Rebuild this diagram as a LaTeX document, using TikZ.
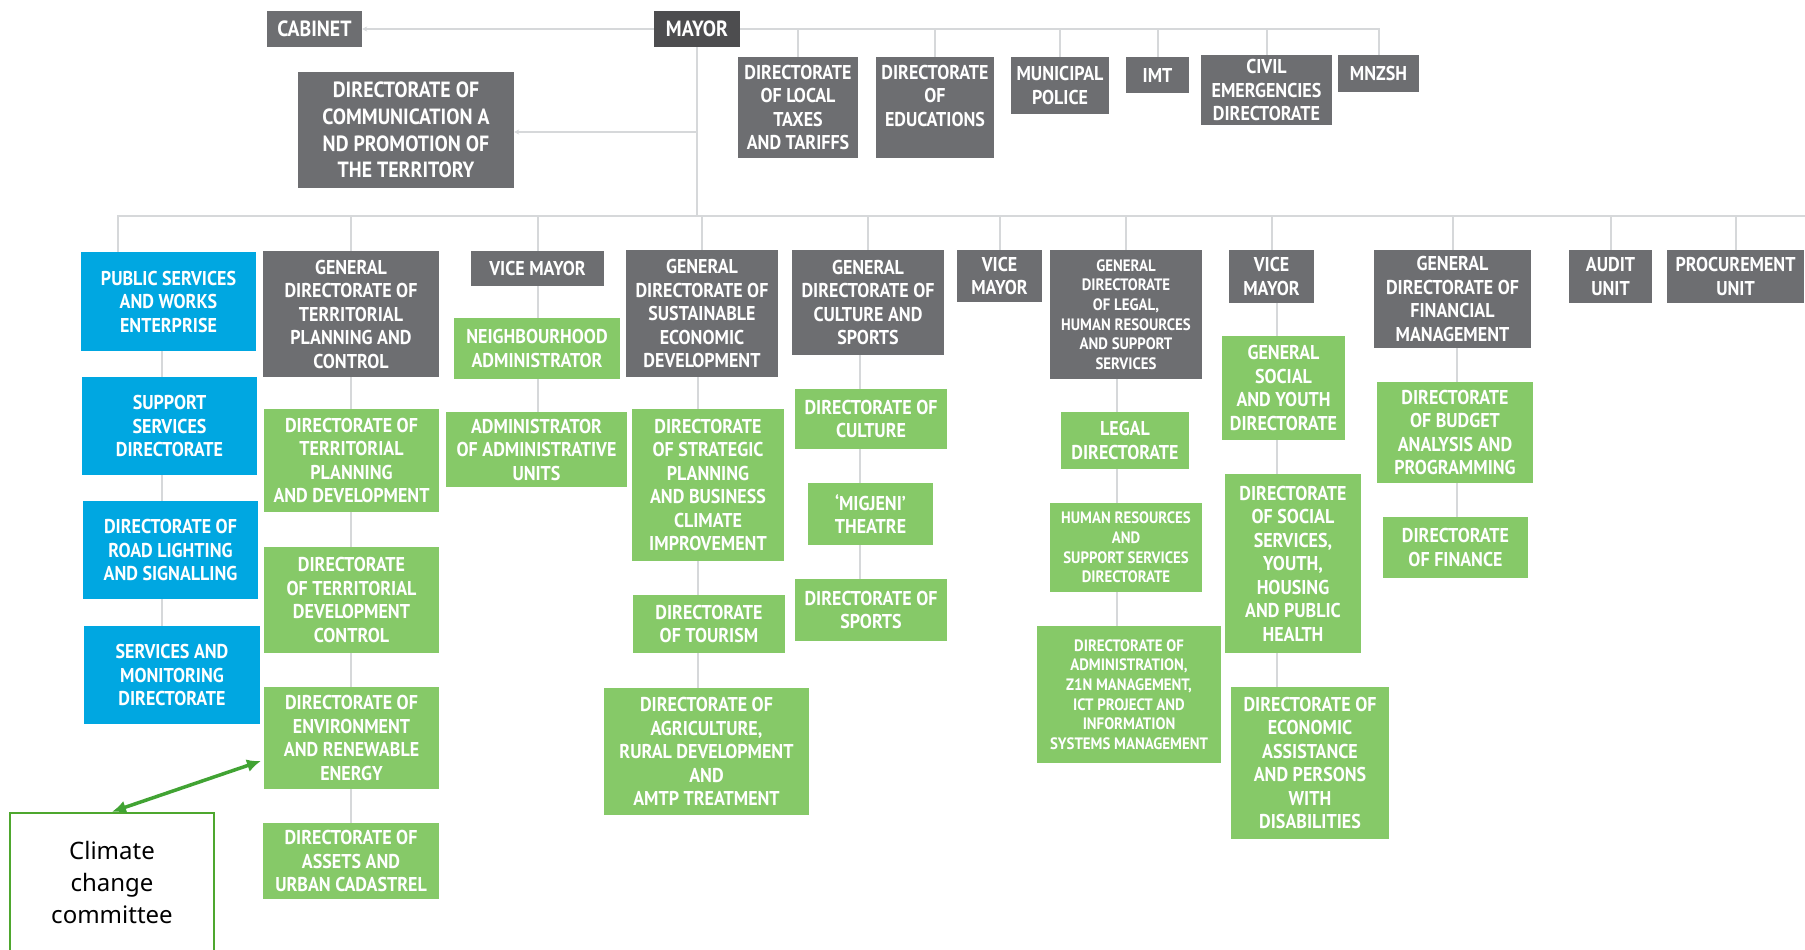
\documentclass[tikz,border=0pt]{standalone}
\usepackage{fontspec}
\newfontfamily\bxf{PT Sans}[FakeStretch=0.9]
\newfontfamily\clf{Noto Sans}
\usetikzlibrary{arrows.meta,backgrounds}
\definecolor{gry}{HTML}{6D6E71}
\definecolor{mayorc}{HTML}{4D4D4F}
\definecolor{grn}{HTML}{86C968}
\definecolor{blu}{HTML}{00A7E1}
\definecolor{lnc}{HTML}{D6D8DA}
\definecolor{arrg}{HTML}{41A333}
\definecolor{boxg}{HTML}{4EA72E}
\newcommand{\obox}[7]{\node[#2, minimum width={(#5-#3)*1pt}, minimum height={(#6-#4)*1pt}] (#1) at ({(#3+#5)/2},{(#4+#6)/2}) {#7};}
\tikzset{
  base/.style={inner sep=0pt, align=center, text=white, font=\bxf\bfseries\fontsize{20}{23.5}\selectfont},
  gbox/.style={base, fill=gry},
  mbox/.style={base, fill=mayorc},
  grbox/.style={base, fill=grn},
  bbox/.style={base, fill=blu},
  smallf/.style={font=\bxf\bfseries\fontsize{16.5}{19.6}\selectfont},
  bigf/.style={font=\bxf\bfseries\fontsize{22}{26.7}\selectfont},
  ln/.style={draw=lnc, line width=2pt},
  tip/.style={-{Stealth[length=5pt,width=5pt]}},
  garrow/.style={draw=arrg, line width=3.5pt, {Latex[length=14pt,width=13pt]}-{Latex[length=14pt,width=13pt]}},
  climbox/.style={draw=boxg, line width=2.5pt, fill=white, inner sep=0pt, align=center, text=black, font=\clf\fontsize{24}{32}\selectfont}
}
\begin{document}
\begin{tikzpicture}[x=1pt,y=-1pt]
\useasboundingbox (0,0) rectangle (1805,950);
% top row
\obox{cab}{gbox,bigf}{267}{11}{362}{47}{CABINET}
\obox{mayor}{mbox,bigf}{654}{11}{740}{47}{MAYOR}
\obox{comm}{gbox,bigf}{298}{72}{514}{188}{DIRECTORATE OF\\COMMUNICATION A\\ND PROMOTION OF\\THE TERRITORY}
\obox{tax}{gbox}{738}{57}{858}{158}{DIRECTORATE\\OF LOCAL\\TAXES\\AND TARIFFS}
\obox{edu}{gbox}{876}{57}{994}{158}{DIRECTORATE\\OF\\EDUCATIONS\\~}
\obox{pol}{gbox}{1011}{57}{1109}{114}{MUNICIPAL\\POLICE}
\obox{imt}{gbox}{1126}{57}{1189}{93}{IMT}
\obox{civ}{gbox}{1201}{55}{1332}{125}{CIVIL\\EMERGENCIES\\DIRECTORATE}
\obox{mnz}{gbox}{1338}{55}{1419}{92}{MNZSH}
% second row
\obox{ps}{bbox}{81}{252}{256}{351}{PUBLIC SERVICES\\AND WORKS\\ENTERPRISE}
\obox{gdtp}{gbox}{263}{251}{439}{377}{GENERAL\\DIRECTORATE OF\\TERRITORIAL\\PLANNING AND\\CONTROL}
\obox{vm1}{gbox}{471}{251}{604}{286}{VICE MAYOR}
\obox{gdse}{gbox}{626}{250}{778}{377}{GENERAL\\DIRECTORATE OF\\SUSTAINABLE\\ECONOMIC\\DEVELOPMENT}
\obox{gdcs}{gbox}{792}{250}{944}{355}{GENERAL\\DIRECTORATE OF\\CULTURE AND\\SPORTS}
\obox{vm2}{gbox}{957}{250}{1042}{302}{VICE\\MAYOR}
\obox{gdl}{gbox,smallf}{1050}{250}{1202}{379}{GENERAL\\DIRECTORATE\\OF LEGAL,\\HUMAN RESOURCES\\AND SUPPORT\\SERVICES}
\obox{vm3}{gbox}{1229}{250}{1314}{303}{VICE\\MAYOR}
\obox{gdfm}{gbox}{1374}{250}{1531}{348}{GENERAL\\DIRECTORATE OF\\FINANCIAL\\MANAGEMENT}
\obox{aud}{gbox}{1569}{250}{1652}{303}{AUDIT\\UNIT}
\obox{proc}{gbox}{1667}{250}{1804}{303}{PROCUREMENT\\UNIT}
% column 1
\obox{ss}{bbox}{82}{377}{257}{475}{SUPPORT\\SERVICES\\DIRECTORATE}
\obox{rl}{bbox}{83}{501}{258}{599}{DIRECTORATE OF\\ROAD LIGHTING\\AND SIGNALLING}
\obox{sm}{bbox}{84}{626}{260}{724}{SERVICES AND\\MONITORING\\DIRECTORATE}
% column 2
\obox{dtpd}{grbox}{264}{409}{439}{512}{DIRECTORATE OF\\TERRITORIAL\\PLANNING\\AND DEVELOPMENT}
\obox{dtdc}{grbox}{264}{547}{439}{653}{DIRECTORATE\\OF TERRITORIAL\\DEVELOPMENT\\CONTROL}
\obox{env}{grbox}{264}{687}{439}{789}{DIRECTORATE OF\\ENVIRONMENT\\AND RENEWABLE\\ENERGY}
\obox{ast}{grbox}{263}{823}{439}{899}{DIRECTORATE OF\\ASSETS AND\\URBAN CADASTREL}
% column 3
\obox{na}{grbox}{454}{318}{620}{379}{NEIGHBOURHOOD\\ADMINISTRATOR}
\obox{aau}{grbox}{446}{412}{627}{487}{ADMINISTRATOR\\OF ADMINISTRATIVE\\UNITS}
% column 4
\obox{dsp}{grbox}{632}{409}{784}{561}{DIRECTORATE\\OF STRATEGIC\\PLANNING\\AND BUSINESS\\CLIMATE\\IMPROVEMENT}
\obox{dt}{grbox}{633}{595}{785}{653}{DIRECTORATE\\OF TOURISM}
\obox{dag}{grbox}{604}{688}{809}{815}{DIRECTORATE OF\\AGRICULTURE,\\RURAL DEVELOPMENT\\AND\\AMTP TREATMENT}
% column 5
\obox{dc}{grbox}{795}{389}{947}{449}{DIRECTORATE OF\\CULTURE}
\obox{mt}{grbox}{808}{483}{933}{545}{‘MIGJENI’\\THEATRE}
\obox{ds}{grbox}{795}{579}{947}{641}{DIRECTORATE OF\\SPORTS}
% column 6
\obox{ld}{grbox}{1061}{412}{1189}{469}{LEGAL\\DIRECTORATE}
\obox{hr}{grbox,smallf}{1050}{503}{1202}{592}{HUMAN RESOURCES\\AND\\SUPPORT SERVICES\\DIRECTORATE}
\obox{dadm}{grbox,smallf}{1037}{626}{1221}{763}{DIRECTORATE OF\\ADMINISTRATION,\\Z1N MANAGEMENT,\\ICT PROJECT AND\\INFORMATION\\SYSTEMS MANAGEMENT}
% column 7
\obox{gsy}{grbox}{1222}{336}{1345}{440}{GENERAL\\SOCIAL\\AND YOUTH\\DIRECTORATE}
\obox{dss}{grbox}{1225}{474}{1361}{653}{DIRECTORATE\\OF SOCIAL\\SERVICES,\\YOUTH,\\HOUSING\\AND PUBLIC\\HEALTH}
\obox{dea}{grbox}{1231}{687}{1389}{839}{DIRECTORATE OF\\ECONOMIC\\ASSISTANCE\\AND PERSONS\\WITH\\DISABILITIES}
% column 8
\obox{db}{grbox}{1377}{382}{1533}{483}{DIRECTORATE\\OF BUDGET\\ANALYSIS AND\\PROGRAMMING}
\obox{df}{grbox}{1383}{517}{1528}{578}{DIRECTORATE\\OF FINANCE}
% climate committee
\obox{clim}{climbox}{10}{813}{214}{952}{Climate\\change\\committee}
% connectors
\coordinate (vx) at (697,216);
\coordinate (cj) at (697,132);
\coordinate (busL) at (118,216);
\coordinate (busR) at (1805,216);
\coordinate (c1) at (162,0);
\coordinate (c4) at (698,0);
\coordinate (c5) at (860,0);
\coordinate (c6) at (1117,0);
\coordinate (c7) at (1277,0);
\coordinate (c8) at (1457,0);
\begin{pgfonlayer}{background}
\fill[white] (0,0) rectangle (1805,950);
\draw[ln,tip] (mayor.west) -- (cab.east);
\draw[ln] (vx |- mayor.south) -- (vx);
\draw[ln,tip] (cj) -- (cj -| comm.east);
\draw[ln] (mayor.east) -- (mayor.east -| mnz.north) -- (mnz.north);
\foreach \n in {tax,edu,pol,imt,civ} \draw[ln] (\n.north |- mayor.east) -- (\n.north);
\draw[ln] (busL |- ps.north) -- (busL) -- (busR);
\foreach \n in {gdtp,vm1,gdse,gdcs,vm2,gdl,vm3,gdfm,aud,proc} \draw[ln] (\n.north |- busL) -- (\n.north);
\draw[ln] (c1 |- ps.south) -- (c1 |- sm.north);
\draw[ln] (gdtp.south) -- (gdtp.south |- ast.north);
\draw[ln] (vm1.south) -- (vm1.south |- aau.north);
\draw[ln] (c4 |- gdse.south) -- (c4 |- dag.north);
\draw[ln] (c5 |- gdcs.south) -- (c5 |- ds.north);
\draw[ln] (c6 |- gdl.south) -- (c6 |- dadm.north);
\draw[ln] (c7 |- vm3.south) -- (c7 |- dea.north);
\draw[ln] (c8 |- gdfm.south) -- (c8 |- df.north);
\end{pgfonlayer}
\draw[garrow, shorten >=3pt] (clim.north) -- ([yshift=-22pt]env.west);
\end{tikzpicture}
\end{document}
